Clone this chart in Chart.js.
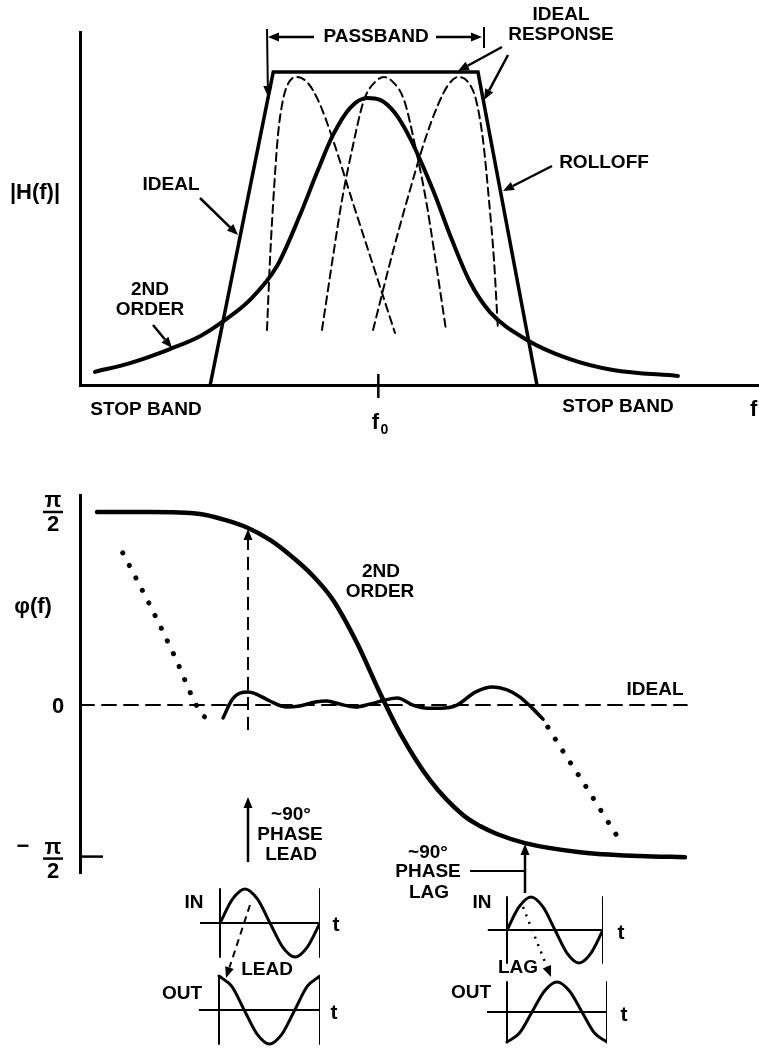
<!DOCTYPE html>
<html>
<head>
<meta charset="utf-8">
<script src="https://cdn.jsdelivr.net/npm/chart.js@4.4.1/dist/chart.umd.min.js"></script>
<style>
  body { margin: 0; background: #fff; }
  #wrap { position: relative; width: 759px; height: 1054px; overflow: hidden; }
  canvas { position: absolute; left: 0; top: 0; }
</style>
</head>
<body>
<div id="wrap">
  <canvas id="mag" width="759" height="1054"></canvas>
  <canvas id="phase" width="759" height="1054"></canvas>
  <canvas id="leadIn" width="759" height="1054"></canvas>
  <canvas id="leadOut" width="759" height="1054"></canvas>
  <canvas id="lagIn" width="759" height="1054"></canvas>
  <canvas id="lagOut" width="759" height="1054"></canvas>
</div>
<script>
// frequency runs 0..100 across both plots, f0 sits at 44
var f0 = 44;

// |H(f)|, 1 = passband level
var idealMagX = [19.2, 28.5, 58.7, 67.4];
var idealMagY = [0, 1, 1, 0];
var secondMagX = [2.21, 7.37, 13.27, 17.70, 20.94, 25.07, 29.06, 32.45, 35.10, 37.32, 39.82, 42.33, 44.25, 46.46, 48.67, 52.06, 54.87, 57.52, 60.47, 65.93, 71.83, 78.61, 88.20];
var secondMagY = [0.042, 0.070, 0.115, 0.156, 0.201, 0.272, 0.380, 0.543, 0.687, 0.799, 0.885, 0.917, 0.911, 0.869, 0.789, 0.623, 0.463, 0.329, 0.233, 0.144, 0.086, 0.048, 0.029];
// the single resonators (dashed)
var leftBellX = [27.58, 28.02, 28.61, 29.20, 29.94, 30.83, 32.01, 33.48, 35.10, 37.32, 40.12, 43.22, 46.46];
var leftBellY = [0.176, 0.399, 0.623, 0.799, 0.911, 0.968, 0.984, 0.968, 0.911, 0.783, 0.591, 0.383, 0.166];
var midBellX = [35.69, 37.46, 38.64, 40.12, 41.89, 43.51, 44.84, 46.17, 47.79, 49.56, 51.03, 52.21, 53.98];
var midBellY = [0.176, 0.431, 0.591, 0.751, 0.911, 0.968, 0.984, 0.968, 0.911, 0.751, 0.591, 0.431, 0.176];
var rightBellX = [43.22, 46.02, 48.67, 50.88, 52.80, 54.28, 55.75, 57.23, 58.41, 59.44, 60.32, 61.06, 61.65];
var rightBellY = [0.176, 0.415, 0.623, 0.783, 0.895, 0.958, 0.984, 0.968, 0.911, 0.783, 0.591, 0.399, 0.176];

// phase, 1 = pi/2 (the drawing squeezes the lower half)
var halfPiTick = 1, zeroTick = 0, negHalfPiTick = -0.785;
var secondPhaseX = [2.51, 10.32, 17.70, 21.39, 24.78, 28.02, 30.97, 34.22, 37.32, 40.86, 44.25, 47.20, 51.62, 56.49, 59.00, 61.50, 65.63, 73.75, 82.60, 89.23];
var secondPhaseY = [1.0, 1.0, 0.990, 0.959, 0.917, 0.855, 0.777, 0.674, 0.544, 0.321, 0.062, -0.145, -0.389, -0.570, -0.627, -0.668, -0.715, -0.762, -0.782, -0.788];
var rippleX = [21.1, 22.4, 23.6, 24.8, 26.3, 28.0, 30.5, 32.4, 34.7, 36.4, 38.3, 40.6, 42.8, 45.0, 46.8, 49.1, 51.3, 53.1, 55.6, 58.3, 60.9, 63.0, 64.9, 66.7, 68.3];
var rippleY = [-0.067, 0.026, 0.062, 0.067, 0.052, 0.021, -0.010, -0.005, 0.016, 0.021, 0.005, -0.010, 0.005, 0.026, 0.036, 0.0, -0.016, -0.016, 0.0, 0.067, 0.093, 0.078, 0.041, -0.016, -0.073];
var leftTailX = [6.3, 10.3, 14.0, 17.3, 18.4, 20.1];
var leftTailY = [0.788, 0.518, 0.249, -0.010, -0.062, -0.088];
var rightTailX = [69.0, 71.5, 74.2, 76.7, 79.4];
var rightTailY = [-0.114, -0.254, -0.399, -0.539, -0.689];
var idealPhaseX = [0, 89.5];
var idealPhaseY = [0, 0];

// little in/out sketches, one period of t
var waveT = [0, 0.125, 0.25, 0.375, 0.5, 0.625, 0.75, 0.875, 1];
var inWave = [0, 0.7, 1, 0.7, 0, -0.7, -1, -0.7, 0];
var leadWave = [1, 0.7, 0, -0.7, -1, -0.7, 0, 0.7, 1];
var lagWave = [-1, -0.7, 0, 0.7, 1, 0.7, 0, -0.7, -1];
var tAxisT = [-0.2, 1];
var tAxisV = [0, 0];
var barV = [-1, 1];

function pts(xs, ys) {
  return xs.map(function (x, i) { return { x: x, y: ys[i] }; });
}

function line(xs, ys, width, dash, smooth) {
  return {
    data: pts(xs, ys),
    borderColor: "#000",
    borderWidth: width,
    borderDash: dash || [],
    borderCapStyle: "round",
    borderJoinStyle: "round",
    pointRadius: 0,
    fill: false,
    tension: 0,
    cubicInterpolationMode: smooth ? "monotone" : "default",
  };
}

function font(size) {
  return "bold " + size + 'px "Liberation Sans", Arial, sans-serif';
}

function text(ctx, s, x, y, size, align) {
  ctx.font = font(size || 19);
  ctx.textAlign = align || "center";
  ctx.textBaseline = "middle";
  ctx.fillStyle = "#000";
  ctx.fillText(s, x, y);
}

function seg(ctx, x1, y1, x2, y2, width, dash) {
  ctx.save();
  ctx.strokeStyle = "#000";
  ctx.lineWidth = width || 2;
  ctx.setLineDash(dash || []);
  ctx.beginPath();
  ctx.moveTo(x1, y1);
  ctx.lineTo(x2, y2);
  ctx.stroke();
  ctx.restore();
}

function arrow(ctx, x1, y1, x2, y2, width, dash) {
  var a = Math.atan2(y2 - y1, x2 - x1);
  var head = 11, half = 4.5;
  var bx = x2 - head * Math.cos(a), by = y2 - head * Math.sin(a);
  seg(ctx, x1, y1, bx, by, width, dash);
  ctx.save();
  ctx.fillStyle = "#000";
  ctx.beginPath();
  ctx.moveTo(x2, y2);
  ctx.lineTo(bx + half * Math.sin(a), by - half * Math.cos(a));
  ctx.lineTo(bx - half * Math.sin(a), by + half * Math.cos(a));
  ctx.closePath();
  ctx.fill();
  ctx.restore();
}

function fraction(ctx, x, y, sign) {
  // pi over 2, centred on the bar
  if (sign) text(ctx, "\u2212", x - 30, y - 12, 22);
  text(ctx, "\u03c0", x, y - 11, 22);
  seg(ctx, x - 10, y, x + 10, y, 2.5);
  text(ctx, "2", x, y + 13, 22);
}

function axisOpts(min, max, show) {
  return {
    type: "linear",
    min: min,
    max: max,
    display: show,
    grid: { display: false, drawTicks: false },
    ticks: { display: false },
    border: { display: true, color: "#000", width: 3 },
  };
}

var baseOpts = {
  responsive: false,
  animation: false,
  events: [],
  plugins: { legend: { display: false }, tooltip: { enabled: false } },
};

var magNotes = {
  id: "magNotes",
  afterDraw: function (chart) {
    var ctx = chart.ctx;
    var fx = chart.scales.x.getPixelForValue(f0);
    var base = chart.scales.y.getPixelForValue(0);

    text(ctx, "|H(f)|", 35, 193, 22);
    text(ctx, "PASSBAND", 376, 37);
    arrow(ctx, 314, 37, 268, 37, 2.5);
    arrow(ctx, 267, 29, 268, 97, 2);
    arrow(ctx, 436, 37, 482, 37, 2.5);
    seg(ctx, 484, 27, 484, 48, 2);
    text(ctx, "IDEAL", 561, 15);
    text(ctx, "RESPONSE", 561, 35);
    arrow(ctx, 502, 47, 458, 71, 2.5);
    arrow(ctx, 508, 55, 484, 100, 2.5);
    text(ctx, "ROLLOFF", 604, 163);
    arrow(ctx, 552, 166, 503, 191, 2.5);
    text(ctx, "IDEAL", 171, 185);
    arrow(ctx, 200, 198, 238, 235, 2.5);
    text(ctx, "2ND", 150, 290);
    text(ctx, "ORDER", 150, 310);
    arrow(ctx, 153, 325, 172, 348, 2.5);
    text(ctx, "STOP BAND", 146, 410);
    text(ctx, "STOP BAND", 618, 407);

    seg(ctx, fx, base - 11, fx, base + 13, 2.5);
    text(ctx, "f", fx - 3, 423, 22);
    text(ctx, "0", fx + 6, 430, 14);
    text(ctx, "f", 750, 410, 22, "left");
  },
};

new Chart(document.getElementById("mag"), {
  type: "line",
  data: {
    datasets: [
      line(leftBellX, leftBellY, 2, [8, 5], true),
      line(midBellX, midBellY, 2, [8, 5], true),
      line(rightBellX, rightBellY, 2, [8, 5], true),
      line(secondMagX, secondMagY, 4, null, true),
      Object.assign(line(idealMagX, idealMagY, 3.5), { borderJoinStyle: "miter" }),
    ],
  },
  options: Object.assign({}, baseOpts, {
    layout: { padding: { left: 80, top: 32, right: 1, bottom: 669 } },
    scales: { x: axisOpts(0, 100, true), y: axisOpts(0, 1.128, true) },
  }),
  plugins: [magNotes],
});

var phaseNotes = {
  id: "phaseNotes",
  afterDraw: function (chart) {
    var ctx = chart.ctx;
    var y = chart.scales.y;
    var top = y.getPixelForValue(halfPiTick);
    var zero = y.getPixelForValue(zeroTick);
    var low = y.getPixelForValue(negHalfPiTick);

    fraction(ctx, 53, top);
    text(ctx, "0", 58, zero + 2, 22);
    fraction(ctx, 53, low + 2, true);
    seg(ctx, 80, low, 103, low, 2.5);
    text(ctx, "\u03c6(f)", 33, 607, 22);

    text(ctx, "2ND", 381, 572);
    text(ctx, "ORDER", 380, 592);
    text(ctx, "IDEAL", 655, 690);

    arrow(ctx, 248, 730, 248, 529, 2, [13, 7]);
    arrow(ctx, 248, 862, 248, 797, 2.5);
    text(ctx, "~90\u00b0", 291, 815);
    text(ctx, "PHASE", 290, 835);
    text(ctx, "LEAD", 291, 855);

    arrow(ctx, 525, 893, 525, 844, 2.5);
    seg(ctx, 470, 871, 525, 871, 2);
    text(ctx, "~90\u00b0", 428, 853);
    text(ctx, "PHASE", 428, 872);
    text(ctx, "LAG", 429, 893);

    text(ctx, "IN", 194, 903);
    text(ctx, "t", 336, 925, 21);
    text(ctx, "LEAD", 267, 970);
    text(ctx, "OUT", 182, 994);
    text(ctx, "t", 334, 1013, 21);
    arrow(ctx, 250, 905, 226, 978, 2, [7, 5]);

    text(ctx, "IN", 482, 903);
    text(ctx, "t", 621, 933, 21);
    text(ctx, "LAG", 518, 968);
    text(ctx, "OUT", 471, 993);
    text(ctx, "t", 624, 1015, 21);
    arrow(ctx, 523, 907, 551, 977, 2.5, [2, 6]);
  },
};

new Chart(document.getElementById("phase"), {
  type: "line",
  data: {
    datasets: [
      line(idealPhaseX, idealPhaseY, 2, [14, 8]),
      line(leftTailX, leftTailY, 5, [0.1, 14], true),
      line(rightTailX, rightTailY, 5, [0.1, 14], true),
      line(rippleX, rippleY, 3.5, null, true),
      line(secondPhaseX, secondPhaseY, 4.5, null, true),
    ],
  },
  options: Object.assign({}, baseOpts, {
    layout: { padding: { left: 80, top: 495, right: 1, bottom: 181 } },
    scales: { x: axisOpts(0, 100, false), y: axisOpts(-0.87, 1.088, true) },
  }),
  plugins: [phaseNotes],
});

function sketch(id, wave, left, period, mid, amp) {
  new Chart(document.getElementById(id), {
    type: "line",
    data: {
      datasets: [
        line(tAxisT, tAxisV, 2),
        line([0, 0], barV, 2),
        line([1, 1], barV, 2),
        line(waveT, wave, 3, null, true),
      ],
    },
    options: Object.assign({}, baseOpts, {
      layout: {
        padding: {
          left: left - 0.2 * period,
          right: 759 - (left + period),
          top: mid - 1.1 * amp,
          bottom: 1054 - (mid + 1.1 * amp),
        },
      },
      scales: { x: axisOpts(-0.2, 1, false), y: axisOpts(-1.1, 1.1, false) },
    }),
  });
}

sketch("leadIn", inWave, 220, 100, 923, 34);
sketch("leadOut", leadWave, 219, 101, 1010, 34);
sketch("lagIn", inWave, 507, 96, 930, 33);
sketch("lagOut", lagWave, 507, 100, 1012, 30);
</script>
</body>
</html>
